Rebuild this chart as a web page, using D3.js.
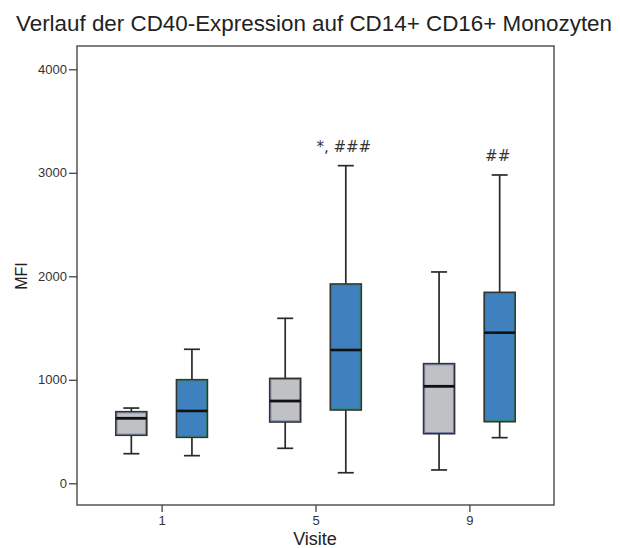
<!DOCTYPE html>
<html>
<head>
<meta charset="utf-8">
<script src="https://cdn.jsdelivr.net/npm/d3@7"></script>
<style>
  html, body { margin: 0; padding: 0; background: #fff; }
  svg { display: block; font-family: Arial, "Liberation Sans", sans-serif; }
</style>
</head>
<body>
<svg id="chart" width="620" height="548"></svg>
<script>
// Visits on the x axis
const visits = ["1", "5", "9"];
// Box statistics per visit: [whisker low, Q1, median, Q3, whisker high]
const greySeries = [
  [286, 464, 628, 692, 727],
  [338, 592, 795, 1014, 1594],
  [129, 479, 937, 1156, 2042]
];
const blueSeries = [
  [267, 444, 699, 1001, 1295],
  [102, 708, 1288, 1926, 3069],
  [441, 595, 1455, 1845, 2979]
];
// Significance marks placed above the second box of each visit
const marks = ["", "*, ###", "##"];
const yTicks = [0, 1000, 2000, 3000, 4000];

const svg = d3.select("#chart");
const frame = { left: 77, right: 554, top: 46, bottom: 505 };

const x = d3.scalePoint().domain(visits).range([frame.left, frame.right]).padding(0.55);
const sub = d3.scalePoint().domain(["grey", "blue"]).range([-30.3, 30.3]);
const y = d3.scaleLinear().domain([0, 4000]).range([483.3, 69.3]);

const boxW = 31, capW = 16;
const styles = {
  grey: { fill: "#c0c1c5", inner: "#4a5a9a" },
  blue: { fill: "#3f80bf", inner: "#2e8a3e" }
};

// Title
svg.append("text")
  .attr("x", 314).attr("y", 31)
  .attr("text-anchor", "middle")
  .attr("font-size", 22)
  .attr("textLength", 596).attr("lengthAdjust", "spacingAndGlyphs")
  .attr("fill", "#222")
  .text("Verlauf der CD40-Expression auf CD14+ CD16+ Monozyten");

// Plot frame
svg.append("rect")
  .attr("x", frame.left).attr("y", frame.top)
  .attr("width", frame.right - frame.left).attr("height", frame.bottom - frame.top)
  .attr("fill", "none").attr("stroke", "#555").attr("stroke-width", 1.5);

// Y axis
const yAxis = svg.append("g")
  .attr("transform", `translate(${frame.left},0)`)
  .call(d3.axisLeft(y).tickValues(yTicks).tickSize(8).tickPadding(2).tickFormat(d3.format("d")));
yAxis.select(".domain").remove();
yAxis.selectAll(".tick line").attr("stroke", "#444").attr("stroke-width", 1.3);
yAxis.selectAll(".tick text").attr("font-size", 13).attr("fill", "#333")
  .attr("font-family", "Arial, 'Liberation Sans', sans-serif");

// X axis
const xAxis = svg.append("g")
  .attr("transform", `translate(0,${frame.bottom})`)
  .call(d3.axisBottom(x).tickSize(7).tickPadding(4));
xAxis.select(".domain").remove();
xAxis.selectAll(".tick line").attr("stroke", "#444").attr("stroke-width", 1.3);
xAxis.selectAll(".tick text").attr("font-size", 13).attr("fill", "#333")
  .attr("font-family", "Arial, 'Liberation Sans', sans-serif");

// Axis titles
svg.append("text")
  .attr("x", 315).attr("y", 545)
  .attr("text-anchor", "middle").attr("font-size", 18).attr("fill", "#222")
  .text("Visite");
svg.append("text")
  .attr("transform", "translate(27,276) rotate(-90)")
  .attr("text-anchor", "middle").attr("font-size", 16).attr("fill", "#222")
  .text("MFI");

// Boxes
const boxes = [];
visits.forEach((v, i) => {
  boxes.push({ visit: v, series: "grey", s: greySeries[i] });
  boxes.push({ visit: v, series: "blue", s: blueSeries[i] });
});

const g = svg.append("g");
const box = g.selectAll("g.box").data(boxes).join("g")
  .attr("class", "box")
  .attr("transform", d => `translate(${x(d.visit) + sub(d.series)},0)`);

// whisker stems
box.append("line")
  .attr("x1", 0).attr("x2", 0)
  .attr("y1", d => y(d.s[0])).attr("y2", d => y(d.s[4]))
  .attr("stroke", "#2a2a2a").attr("stroke-width", 1.7);
// whisker caps
box.selectAll("line.cap").data(d => [d.s[0], d.s[4]]).join("line")
  .attr("class", "cap")
  .attr("x1", -capW / 2).attr("x2", capW / 2)
  .attr("y1", v => y(v)).attr("y2", v => y(v))
  .attr("stroke", "#2a2a2a").attr("stroke-width", 1.7);
// box body
box.append("rect")
  .attr("x", -boxW / 2).attr("width", boxW)
  .attr("y", d => y(d.s[3])).attr("height", d => y(d.s[1]) - y(d.s[3]))
  .attr("fill", d => styles[d.series].fill)
  .attr("stroke", "#333").attr("stroke-width", 1.6);
// thin coloured inner edge
box.append("rect")
  .attr("x", -boxW / 2 + 1.2).attr("width", boxW - 2.4)
  .attr("y", d => y(d.s[3]) + 1.2).attr("height", d => y(d.s[1]) - y(d.s[3]) - 2.4)
  .attr("fill", "none")
  .attr("stroke", d => styles[d.series].inner).attr("stroke-width", 0.8).attr("stroke-opacity", 0.7);
// median
box.append("line")
  .attr("x1", -boxW / 2).attr("x2", boxW / 2)
  .attr("y1", d => y(d.s[2])).attr("y2", d => y(d.s[2]))
  .attr("stroke", "#111").attr("stroke-width", d => d.series === "grey" ? 2.8 : 2.6);

// Significance marks
svg.selectAll("text.mark").data(visits).join("text")
  .attr("class", "mark")
  .attr("x", v => x(v) + sub("blue") - 2)
  .attr("y", (v, i) => y(blueSeries[i][4]) - 14)
  .attr("text-anchor", "middle").attr("font-size", 15).attr("fill", "#333")
  .attr("font-family", "'DejaVu Sans', sans-serif")
  .text((v, i) => marks[i]);
</script>
</body>
</html>
